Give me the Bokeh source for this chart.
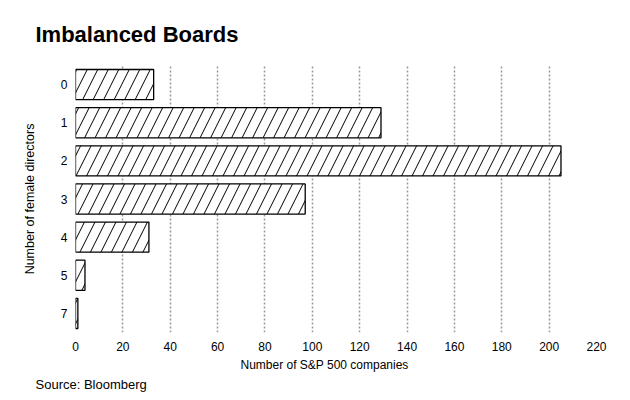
from bokeh.plotting import figure
from bokeh.models import Range1d, FactorRange, Title, ColumnDataSource
from bokeh.embed import file_html
from bokeh.resources import INLINE

directors = ["0", "1", "2", "3", "4", "5", "7"]
companies = [33, 129, 205, 97, 31, 4, 1]
x_ticks = [0, 20, 40, 60, 80, 100, 120, 140, 160, 180, 200, 220]

FONT = "Liberation Sans"

source = ColumnDataSource(dict(y=directors, right=companies))

p = figure(width=622, height=392, output_backend="svg", toolbar_location=None,
           y_range=FactorRange(factors=list(reversed(directors)), range_padding=0),
           x_range=Range1d(0, 220),
           min_border_left=75, min_border_right=26, min_border_top=64, min_border_bottom=60)

p.hbar(y="y", left=0, right="right", height=0.79, source=source,
       fill_color="white", line_color="black", line_width=1.3,
       hatch_pattern="/", hatch_color="black", hatch_scale=21, hatch_weight=1)

p.outline_line_color = None
p.ygrid.grid_line_color = None
p.xgrid.grid_line_color = "#999999"
p.xgrid.grid_line_dash = "2 2"
p.xgrid.grid_line_width = 1.5
p.xaxis.ticker = x_ticks

for ax in (p.xaxis[0], p.yaxis[0]):
    ax.axis_line_color = None
    ax.major_tick_line_color = None
    ax.minor_tick_line_color = None
    ax.major_tick_out = 0
    ax.major_tick_in = 0
    ax.major_label_text_font = FONT
    ax.major_label_text_font_size = "12px"
    ax.major_label_text_color = "black"
    ax.axis_label_text_font = FONT
    ax.axis_label_text_font_size = "12.5px"
    ax.axis_label_text_font_style = "normal"
    ax.axis_label_text_color = "black"

p.xaxis.major_label_standoff = 9
p.yaxis.axis_label = "Number of female directors"
p.yaxis.major_label_standoff = 8
p.yaxis.axis_label_standoff = 21

p.add_layout(Title(text="Imbalanced Boards", align="left", offset=-40, standoff=38,
                   text_font=FONT, text_font_size="22px", text_font_style="bold",
                   text_color="black"), "above")
p.add_layout(Title(text="Number of S&P 500 companies", align="left", offset=165, standoff=5,
                   text_font=FONT, text_font_size="12px", text_font_style="normal",
                   text_color="black"), "below")
p.add_layout(Title(text="Source: Bloomberg", align="left", offset=-40, standoff=0,
                   text_font=FONT, text_font_size="13px", text_font_style="normal",
                   text_color="black"), "below")

open("out.html", "w").write(file_html(p, INLINE))
